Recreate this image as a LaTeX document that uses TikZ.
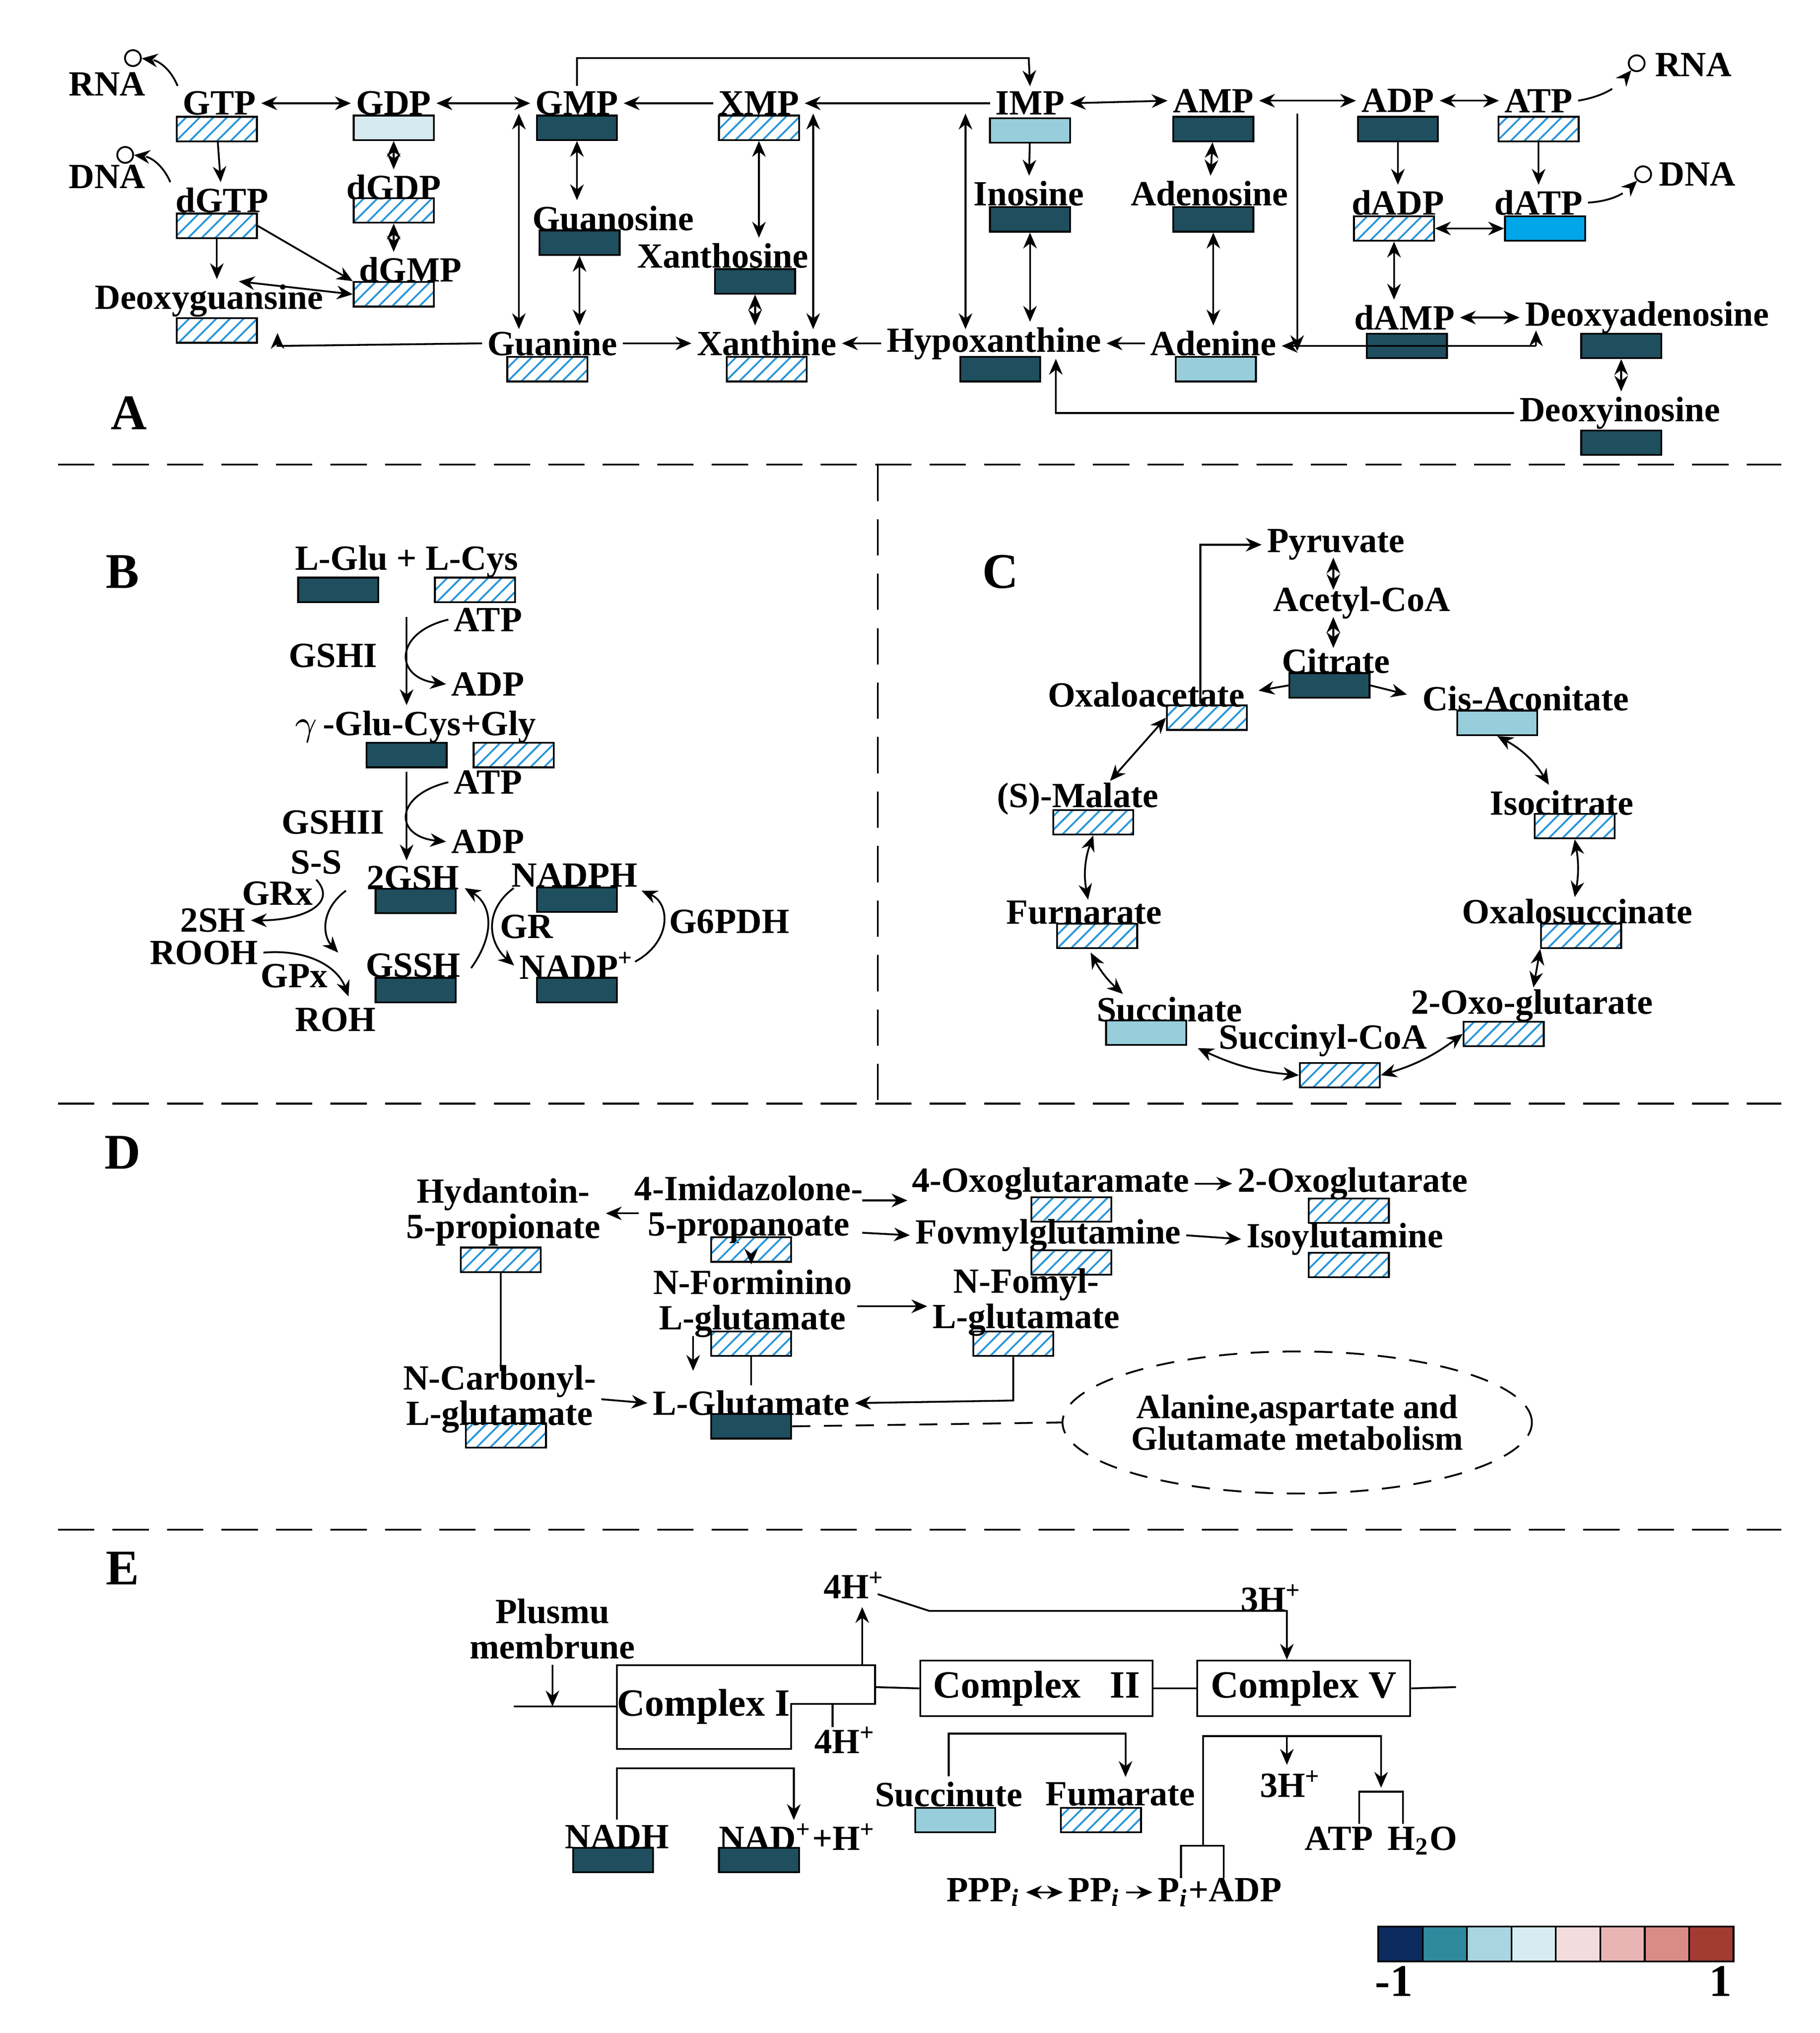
\documentclass[tikz,border=0pt]{standalone}
\usepackage{fontspec}
\setmainfont{Liberation Serif}
\usetikzlibrary{arrows.meta, patterns, positioning, shapes.geometric}
\definecolor{dkc}{RGB}{31,78,94}
\definecolor{ltc}{RGB}{152,206,220}
\definecolor{plc}{RGB}{214,235,241}
\definecolor{brc}{RGB}{0,166,232}
\definecolor{hatc}{RGB}{40,150,220}
\begin{document}
\begin{tikzpicture}
    [
        x=0.01cm, y=-0.01cm,
        every node/.style = {font=\fontsize{7.8}{7.8}\selectfont\bfseries, inner sep=1pt},
        box/.style = {draw=black, minimum width=0.62cm, minimum height=0.19cm, inner sep=0pt},
        dk/.style = {box, fill=dkc},
        lt/.style = {box, fill=ltc},
        pl/.style = {box, fill=plc},
        br/.style = {box, fill=brc},
        ht/.style = {box, pattern=north east lines, pattern color=hatc},
        dot/.style = {circle, draw, inner sep=0pt, minimum size=3.5pt},
        arr/.style = {-{Stealth[length=3.5pt, width=3pt]}},
        darr/.style = {{Stealth[length=3.5pt, width=3pt]}-{Stealth[length=3.5pt, width=3pt]}},
        dsh/.style = {dash pattern=on 8pt off 4pt},
        cplx/.style = {draw, minimum width=1.8cm, minimum height=0.43cm, font=\fontsize{8.5}{8.5}\selectfont\bfseries},
    ]
    \useasboundingbox (0,0) rectangle (1410,1575);
    % ---------- A
    \node (tA) at (100,320) {\fontsize{11}{11}\selectfont A};
    \node (tGTP) at (170,80) {GTP};  \node[ht] (bGTP) at (168,100) {};
    \node (tGDP) at (305,80) {GDP};  \node[pl] (bGDP) at (305,99) {};
    \node (tGMP) at (447,80) {GMP};  \node[dk] (bGMP) at (447,99) {};
    \node (tXMP) at (588,80) {XMP};  \node[ht] (bXMP) at (588,99) {};
    \node (tIMP) at (798,80) {IMP};  \node[lt] (bIMP) at (798,101) {};
    \node (tAMP) at (940,78) {AMP};  \node[dk] (bAMP) at (940,100) {};
    \node (tADP) at (1083,78) {ADP}; \node[dk] (bADP) at (1083,100) {};
    \node (tATP) at (1192,78) {ATP}; \node[ht] (bATP) at (1192,100) {};
    \node (tdGTP) at (172,155) {dGTP}; \node[ht] (bdGTP) at (168,175) {};
    \node (tdGDP) at (305,145) {dGDP}; \node[ht] (bdGDP) at (305,163) {};
    \node (tdGMP) at (318,209) {dGMP}; \node[ht] (bdGMP) at (305,228) {};
    \node (tDG) at (162,233) {Deoxyguansine}; \node[ht] (bDG) at (168,256) {};
    \node (tGuo) at (475,169) {Guanosine}; \node[dk] (bGuo) at (449,188) {};
    \node (tXao) at (560,198) {Xanthosine}; \node[dk] (bXao) at (585,218) {};
    \node (tIno) at (797,150) {Inosine}; \node[dk] (bIno) at (798,170) {};
    \node (tAdo) at (937,150) {Adenosine}; \node[dk] (bAdo) at (940,170) {};
    \node (tdADP) at (1083,157) {dADP}; \node[ht] (bdADP) at (1080,177) {};
    \node (tdATP) at (1192,157) {dATP}; \node[br] (bdATP) at (1197,177) {};
    \node (tdAMP) at (1088,246) {dAMP}; \node[dk] (bdAMP) at (1090,268) {};
    \node (tdAdo) at (1276,246) {Deoxyadenosine}; \node[dk] (bdAdo) at (1256,268) {};
    \node (tdIno) at (1255,320) {Deoxyinosine}; \node[dk] (bdIno) at (1256,343) {};
    \node (tGua) at (428,266) {Guanine}; \node[ht] (bGua) at (424,286) {};
    \node (tXan) at (594,266) {Xanthine}; \node[ht] (bXan) at (594,286) {};
    \node (tHyp) at (770,266) {Hypoxanthine}; \node[dk] (bHyp) at (775,286) {};
    \node (tAde) at (940,266) {Adenine}; \node[lt] (bAde) at (942,286) {};
    \node (tRNA1) at (83,65) {RNA};   \node[dot] (cRNA1) at (103,45) {};
    \node (tDNA1) at (83,137) {DNA};  \node[dot] (cDNA1) at (97,120) {};
    \node (tRNA2) at (1312,50) {RNA}; \node[dot] (cRNA2) at (1268,49) {};
    \node (tDNA2) at (1315,135) {DNA};\node[dot] (cDNA2) at (1273,135) {};
    \draw[darr] (tGTP.east) -- (tGDP.west);
    \draw[darr] (tGDP.east) -- (tGMP.west);
    \draw[arr] (tXMP.west) -- (tGMP.east);
    \draw[arr] (tIMP.west) -- (tXMP.east);
    \draw[darr] (tIMP.east) -- (tAMP.west);
    \draw[darr] (tAMP.east) -- (tADP.west);
    \draw[darr] (tADP.east) -- (tATP.west);
    \draw[arr] (tGMP.north) -- (447,45) -- (797,45) -- (tIMP.north);
    \draw[arr] (bGTP) -- (tdGTP);
    \draw[darr] (bGDP) -- (tdGDP);
    \draw[darr] (bdGDP) -- (tdGMP.north -| bdGDP);
    \draw[arr] (bdGTP.east) -- (bdGMP.north west);
    \draw[arr] (bdGTP) -- (tDG.north -| bdGTP);
    \draw[darr] (185,218) -- (bdGMP.west);
    \draw[arr, dsh] (tGTP.north west) to[bend right=30] (cRNA1);
    \draw[arr, dsh] (tdGTP.north west) to[bend right=30] (cDNA1);
    \draw[arr, dsh] (tATP.east) to[bend right=20] (cRNA2);
    \draw[arr, dsh] (tdATP.east) to[bend right=20] (cDNA2);
    \draw[darr] (bGMP) -- (tGuo.north -| bGMP);
    \draw[darr] (bGuo) -- (tGua.north -| bGuo);
    \draw[darr] (402,255) -- (402,88);
    \draw[darr] (bXMP) -- (tXao.north -| bXMP);
    \draw[darr] (bXao) -- (tXan.north -| bXao);
    \draw[darr] (630,255) -- (630,88);
    \draw[arr] (tGua.east) -- (tXan.west);
    \draw[arr] (tHyp.west) -- (tXan.east);
    \draw[arr] (tAde.west) -- (tHyp.east);
    \draw[arr] (tGua.west) -- (215,268) -- (215,258);
    \draw[darr] (748,255) -- (748,88);
    \draw[arr] (bIMP) -- (tIno);
    \draw[darr] (bIno) -- (tHyp.north -| bIno);
    \draw[darr] (bAMP) -- (tAdo);
    \draw[darr] (bAdo) -- (tAde);
    \draw[arr] (1005,88) -- (1005,272);
    \draw[arr] (1190,268) -- (tAde.east |- 0,268);
    \draw[arr] (1190,268) -- (1190,256);
    \draw[darr] (tdAMP.east) -- (tdAdo.west);
    \draw[arr] (bADP) -- (tdADP);
    \draw[arr] (bATP) -- (tdATP);
    \draw[darr] (bdADP) -- (bdATP);
    \draw[darr] (bdADP) -- (tdAMP.north -| bdADP);
    \draw[darr] (bdAdo) -- (tdIno.north -| bdAdo);
    \draw[arr] (tdIno.west) -- (818,320) -- (818,278);
    % ---------- separators
    \draw[dsh] (45,360) -- (1380,360);
    \draw[dsh] (45,855) -- (1380,855);
    \draw[dsh] (45,1185) -- (1380,1185);
    \draw[dsh] (680,360) -- (680,855);
    % ---------- B
    \node (tB) at (95,443) {\fontsize{11}{11}\selectfont B};
    \node (tGluCys) at (315,435) {L-Glu + L-Cys};
    \node[dk] (bGlu) at (262,457) {}; \node[ht] (bCys) at (368,457) {};
    \node (tGSHI) at (258,508) {GSHI};
    \node (tATP1) at (378,480) {ATP}; \node (tADP1) at (378,530) {ADP};
    \node (tGGC) at (322,563) {$\gamma$\,-Glu-Cys+Gly};
    \node[dk] (bGGC) at (315,585) {}; \node[ht] (bGly) at (398,585) {};
    \node (tGSHII) at (258,637) {GSHII};
    \node (tATP2) at (378,606) {ATP}; \node (tADP2) at (378,652) {ADP};
    \node (tGSH) at (320,680) {2GSH}; \node[dk] (bGSH) at (322,698) {};
    \node (tGSSH) at (320,748) {GSSH}; \node[dk] (bGSSH) at (322,767) {};
    \node (tNADPH) at (445,678) {NADPH}; \node[dk] (bNADPH) at (447,697) {};
    \node (tNADP) at (447,748) {NADP\textsuperscript{+}}; \node[dk] (bNADP) at (447,767) {};
    \node (tGR) at (408,718) {GR};
    \node (tG6PDH) at (565,714) {G6PDH};
    \node (tSS) at (245,668) {S-S};
    \node (tGRx) at (215,692) {GRx};
    \node (t2SH) at (165,713) {2SH};
    \node (tROOH) at (158,738) {ROOH};
    \node (tGPx) at (228,756) {GPx};
    \node (tROH) at (260,790) {ROH};
    \draw[arr] (315,478) -- (tGGC.north -| 315,0);
    \draw[arr] (tATP1.west) .. controls (305,490) and (305,525) .. (tADP1.west);
    \draw[arr] (315,598) -- (tGSH.north -| 315,0);
    \draw[arr] (tATP2.west) .. controls (305,616) and (305,648) .. (tADP2.west);
    \draw[arr] (268,690) .. controls (248,705) and (250,725) .. (262,738);
    \draw[arr] (tSS.south) .. controls (262,700) and (235,713) .. (t2SH.east);
    \draw[arr] (tROOH.east) .. controls (240,735) and (262,750) .. (270,772);
    \draw[arr] (365,750) .. controls (385,722) and (380,700) .. (360,688);
    \draw[arr] (398,688) .. controls (375,705) and (378,730) .. (tNADP.west);
    \draw[arr] (492,745) .. controls (520,730) and (520,700) .. (497,690);
    % ---------- C
    \node (tC) at (775,443) {\fontsize{11}{11}\selectfont C};
    \node (tPyr) at (1035,422) {Pyruvate};
    \node (tAcC) at (1055,467) {Acetyl-CoA};
    \node (tCit) at (1035,512) {Citrate}; \node[dk] (bCit) at (1030,531) {};
    \node (tOxa) at (888,538) {Oxaloacetate}; \node[ht] (bOxa) at (935,556) {};
    \node (tCis) at (1182,541) {Cis-Aconitate}; \node[lt] (bCis) at (1160,560) {};
    \node (tIso) at (1210,622) {Isocitrate}; \node[ht] (bIso) at (1220,640) {};
    \node (tOxs) at (1222,706) {Oxalosuccinate}; \node[ht] (bOxs) at (1225,725) {};
    \node (tOG) at (1187,779) {2-Oxo-glutarate}; \node[ht] (bOG) at (1165,801) {};
    \node (tSCoA) at (1025,806) {Succinyl-CoA}; \node[ht] (bSCoA) at (1038,833) {};
    \node (tSuc) at (906,782) {Succinate}; \node[lt] (bSuc) at (888,800) {};
    \node (tFur) at (840,707) {Furnarate}; \node[ht] (bFur) at (850,725) {};
    \node (tMal) at (835,619) {(S)-Malate}; \node[ht] (bMal) at (847,637) {};
    \draw[darr] (1033,432) -- (1033,457);
    \draw[darr] (1033,478) -- (1033,502);
    \draw[arr] (930,545) -- (930,422) -- (tPyr.west);
    \draw[arr] (bCit.west) -- (975,535);
    \draw[arr] (bCit.east) -- (1090,538);
    \draw[darr] (bCis.south) to[bend left=15] (1200,608);
    \draw[darr] (bIso.south) to[bend left=10] (1220,695);
    \draw[darr] (bOxs.south west) -- (1188,765);
    \draw[darr] (bOG.west) to[bend left=10] (bSCoA.east);
    \draw[darr] (bSCoA.west) to[bend left=10] (928,812);
    \draw[darr] (870,770) to[bend left=10] (845,738);
    \draw[darr] (843,697) to[bend left=15] (bMal.south);
    \draw[darr] (860,605) -- (bOxa.west);
    % ---------- D
    \node (tD) at (95,893) {\fontsize{11}{11}\selectfont D};
    \node[align=center] (tHyd) at (390,939) {Hydantoin-\\5-propionate}; \node[ht] (bHyd) at (388,976) {};
    \node[align=center] (tImi) at (580,937) {4-Imidazolone-\\5-propanoate}; \node[ht] (bImi) at (582,968) {};
    \node (tOGA) at (814,917) {4-Oxoglutaramate}; \node[ht] (bOGA) at (830,937) {};
    \node (tOG2) at (1048,917) {2-Oxoglutarate}; \node[ht] (bOG2) at (1045,938) {};
    \node (tFov) at (812,957) {Fovmylglutamine}; \node[ht] (bFov) at (830,978) {};
    \node (tIsoy) at (1042,960) {Isoylutamine}; \node[ht] (bIsoy) at (1045,980) {};
    \node[align=center] (tNFI) at (583,1010) {N-Forminino\\L-glutamate}; \node[ht] (bNFI) at (582,1041) {};
    \node[align=center] (tNFO) at (795,1009) {N-Fomyl-\\L-glutamate}; \node[ht] (bNFO) at (785,1041) {};
    \node[align=center] (tNCG) at (387,1084) {N-Carbonyl-\\L-glutamate}; \node[ht] (bNCG) at (392,1112) {};
    \node (tGlu) at (582,1087) {L-Glutamate}; \node[dk] (bGlu2) at (582,1105) {};
    \node[ellipse, draw, dash pattern=on 4pt off 3pt, inner sep=0pt, minimum width=3.1cm, minimum height=1.1cm, align=center, font=\fontsize{7.5}{7}\selectfont\bfseries] (eAla) at (1005,1102) {Alanine,aspartate and\\Glutamate metabolism};
    \draw[arr] (495,940) -- (tHyd.east |- 0,940);
    \draw[arr] (668,930) -- (703,930);
    \draw[arr] (668,955) -- (tFov.west);
    \draw[arr] (tOGA.east) -- (tOG2.west);
    \draw[arr] (tFov.east) -- (tIsoy.west);
    \draw[arr] (bImi) -- (tNFI.north -| bImi);
    \draw[arr] (tNFI.east |- 0,1012) -- (tNFO.west |- 0,1012);
    \draw[arr] (537,1035) -- (537,1062);
    \draw (bNFI) -- (tGlu.north -| bNFI);
    \draw[arr] (bNFO) -- (785,1085) -- (tGlu.east);
    \draw[arr] (tNCG.east) -- (tGlu.west);
    \draw (bHyd) -- (388,1062);
    \draw[dash pattern=on 4pt off 3pt] (bGlu2.east) -- (eAla.west);
    % ---------- E
    \node (tE) at (95,1215) {\fontsize{11}{11}\selectfont E};
    \node[align=center] (tPlm) at (428,1262) {Plusmu\\membrune};
    \coordinate (m1) at (428,1322);
    \draw[arr] (tPlm.south) -- (m1);
    \draw (398,1322) -- (478,1322);
    \draw (478,1290) -- (678,1290) -- (678,1320) -- (613,1320) -- (613,1355) -- (478,1355) -- cycle;
    \node[font=\fontsize{8.5}{8.5}\selectfont\bfseries] (tC1) at (545,1322) {Complex I};
    \node[cplx] (C2) at (803,1308) {Complex \ \ II};
    \node[cplx, minimum width=1.65cm] (C5) at (1010,1308) {Complex V};
    \draw (678,1307) -- (C2.west);
    \draw (C2.east) -- (C5.west);
    \draw (C5.east) -- (1128,1307);
    \node (t4H1) at (662,1228) {4H\textsuperscript{+}};
    \node (t3H1) at (985,1238) {3H\textsuperscript{+}};
    \draw[arr] (668,1290) -- (668,1245);
    \draw[arr] (680,1235) -- (720,1248) -- (997,1248) -- (C5.north -| 997,0);
    \node (t4H2) at (655,1348) {4H\textsuperscript{+}};
    \draw (645,1320) -- (645,1338);
    \node (tSucc) at (735,1390) {Succinute}; \node[lt] (bSucc) at (740,1410) {};
    \node (tFum) at (868,1390) {Fumarate}; \node[ht] (bFum) at (853,1410) {};
    \draw[arr] (tSucc.north) -- (735,1343) -- (872,1343) -- (tFum.north -| 872,0);
    \node (tNADH) at (478,1423) {NADH}; \node[dk] (bNADH) at (475,1441) {};
    \node (tNAD) at (618,1423) {NAD\textsuperscript{+}+H\textsuperscript{+}}; \node[dk] (bNAD) at (588,1441) {};
    \draw[arr] (tNADH.north) -- (478,1370) -- (615,1370) -- (615,1410);
    \draw[arr] (932,1430) -- (932,1345) -- (1070,1345) -- (1070,1385);
    \node (t3H2) at (1000,1382) {3H\textsuperscript{+}};
    \draw[arr] (997,1345) -- (t3H2.north -| 997,0);
    \node (tATPW) at (1070,1426) {ATP \,H\textsubscript{2}O};
    \draw (1053,1413) -- (1053,1388) -- (1087,1388) -- (1087,1413);
    \draw (915,1455) -- (915,1430) -- (948,1430) -- (948,1455);
    \node (tPPPi) at (762,1466) {PPP\textsubscript{\textit{i}}};
    \node (tPPi) at (848,1466) {PP\textsubscript{\textit{i}}};
    \node (tPiADP) at (945,1466) {P\textsubscript{\textit{i}}+ADP};
    \draw[darr] (tPPPi.east) -- (tPPi.west);
    \draw[arr] (tPPi.east) -- (tPiADP.west);
    % ---------- legend
    \foreach \c [count=\i from 0] in {{11,42,94},{46,138,156},{169,213,224},{215,236,242},{243,220,220},{232,180,180},{217,140,134},{162,59,50}} {
        \definecolor{lg}{RGB}{\c}
        \node[draw, fill=lg, minimum width=0.344cm, minimum height=0.27cm, inner sep=0pt] (lg\i) at (1085+34.4*\i,1506) {};
    }
    \node (tm1) at (1080,1535) {\fontsize{10}{10}\selectfont -1};
    \node (tp1) at (1333,1535) {\fontsize{10}{10}\selectfont 1};
\end{tikzpicture}
\end{document}
